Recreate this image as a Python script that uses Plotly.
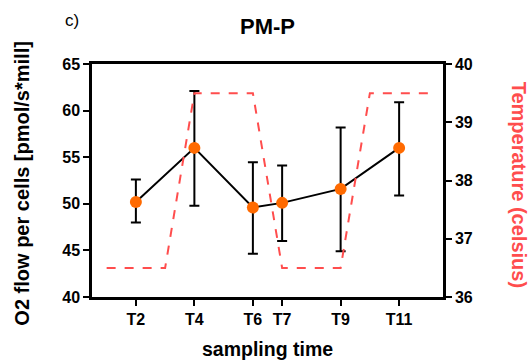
import plotly.graph_objects as go

# Data
categories = ["T2", "T4", "T6", "T7", "T9", "T11"]
x_pos = [2, 4, 6, 7, 9, 11]
o2_flow = [50.2, 56.0, 49.6, 50.1, 51.6, 56.0]
err_plus = [2.4, 6.1, 4.85, 4.0, 6.6, 4.9]
err_minus = [2.2, 6.2, 4.95, 4.1, 6.7, 5.1]

temp_x = [1, 3, 4, 6, 7, 9, 10, 12]
temp_y = [36.5, 36.5, 39.5, 39.5, 36.5, 36.5, 39.5, 39.5]

left_ticks = [40, 45, 50, 55, 60, 65]
right_ticks = [36, 37, 38, 39, 40]

FONT = "Liberation Sans, Arial, sans-serif"
RED = "#ff4d4d"

fig = go.Figure()

fig.add_trace(go.Scatter(
    x=temp_x, y=temp_y, mode="lines", yaxis="y2",
    line=dict(color=RED, width=2, dash="dash"),
    showlegend=False, hoverinfo="skip"))

fig.add_trace(go.Scatter(
    x=x_pos, y=o2_flow, mode="lines+markers",
    line=dict(color="black", width=2),
    marker=dict(color="#ff6a00", size=12, line=dict(width=0)),
    error_y=dict(type="data", symmetric=False, array=err_plus,
                 arrayminus=err_minus, color="black", thickness=2, width=5),
    showlegend=False))

axis_common = dict(showline=True, linecolor="black", linewidth=2.5,
                   ticks="outside", tickcolor="black", tickwidth=2, ticklen=6,
                   showgrid=False, zeroline=False,
                   tickfont=dict(family=FONT, size=16, color="black"))

def bold(vals):
    return ["<b>%s</b>" % v for v in vals]

fig.update_layout(
    width=529, height=364,
    margin=dict(l=92, r=86, t=64, b=67),
    paper_bgcolor="white", plot_bgcolor="white",
    xaxis=dict(range=[0.5, 12.5], tickmode="array", tickvals=x_pos,
               ticktext=bold(categories), mirror=True, **axis_common),
    yaxis=dict(range=[40, 65], tickmode="array", tickvals=left_ticks,
               ticktext=bold(left_ticks), **axis_common),
    yaxis2=dict(range=[36, 40], tickmode="array", tickvals=right_ticks,
                ticktext=bold(right_ticks),
                overlaying="y", side="right", **axis_common),
    annotations=[
        dict(text="<b>PM-P</b>", xref="paper", yref="paper", x=0.5, y=1.16,
             showarrow=False, font=dict(family=FONT, size=22, color="black"),
             xanchor="center", yanchor="middle"),
        dict(text="c)", xref="paper", yref="paper", x=-0.057, y=1.185,
             showarrow=False, font=dict(family=FONT, size=17, color="black"),
             xanchor="center", yanchor="middle"),
        dict(text="<b>sampling time</b>", xref="paper", yref="paper", x=0.5, y=-0.222,
             showarrow=False, font=dict(family=FONT, size=19.5, color="black"),
             xanchor="center", yanchor="middle"),
        dict(text="<b>O2 flow per cells [pmol/s*mill]</b>", xref="paper", yref="paper",
             x=-0.2, y=0.49, textangle=-90, showarrow=False,
             font=dict(family=FONT, size=20, color="black"),
             xanchor="center", yanchor="middle"),
        dict(text="<b>Temperature (celsius)</b>", xref="paper", yref="paper",
             x=1.215, y=0.48, textangle=90, showarrow=False,
             font=dict(family=FONT, size=20, color=RED),
             xanchor="center", yanchor="middle"),
    ],
)

fig.write_html("out.html")
